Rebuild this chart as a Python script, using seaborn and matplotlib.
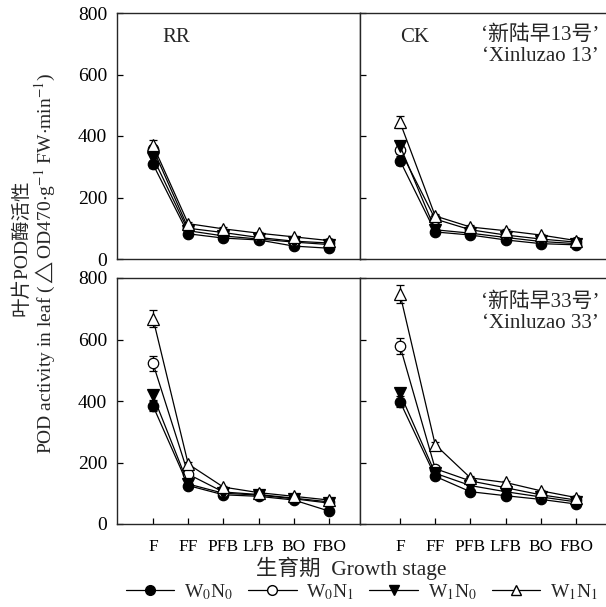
import numpy as np
import pandas as pd
import matplotlib
matplotlib.use("Agg")
import matplotlib.pyplot as plt
import seaborn as sns

sns.set_style("ticks")
plt.rcParams['font.family'] = ['Liberation Serif', 'Noto Sans CJK SC', 'DejaVu Sans']
plt.rcParams['mathtext.fontset'] = 'stix'

# ---------------------------
# data
# ---------------------------
stages = ["F", "FF", "PFB", "LFB", "BO", "FBO"]
treatments = ["W0N0", "W0N1", "W1N0", "W1N1"]
legend_labels = [r"W$_0$N$_0$", r"W$_0$N$_1$", r"W$_1$N$_0$", r"W$_1$N$_1$"]

# 新陆早13号, RR
rr13_w0n0 = [308, 82, 68, 62, 42, 35]
rr13_w0n1 = [358, 100, 86, 70, 58, 52]
rr13_w1n0 = [330, 92, 75, 65, 55, 47]
rr13_w1n1 = [370, 115, 98, 84, 72, 60]
rr13_err = [[12, 5, 5, 4, 4, 4], [12, 6, 5, 4, 4, 4], [12, 5, 5, 4, 4, 4], [18, 6, 5, 4, 4, 4]]

# 新陆早13号, CK
ck13_w0n0 = [320, 88, 78, 62, 50, 46]
ck13_w0n1 = [355, 130, 95, 78, 65, 55]
ck13_w1n0 = [368, 95, 84, 70, 57, 50]
ck13_w1n1 = [445, 140, 104, 92, 78, 60]
ck13_err = [[15, 6, 5, 4, 4, 4], [15, 6, 5, 4, 4, 4], [15, 6, 5, 4, 4, 4], [20, 6, 5, 4, 4, 4]]

# 新陆早33号, RR
rr33_w0n0 = [384, 125, 95, 90, 78, 42]
rr33_w0n1 = [522, 162, 104, 96, 84, 72]
rr33_w1n0 = [418, 130, 100, 94, 82, 68]
rr33_w1n1 = [668, 195, 120, 102, 90, 78]
rr33_err = [[18, 8, 5, 5, 4, 4], [25, 8, 5, 5, 4, 4], [18, 8, 5, 5, 4, 4], [28, 8, 5, 5, 4, 4]]

# 新陆早33号, CK
ck33_w0n0 = [398, 155, 105, 92, 80, 65]
ck33_w0n1 = [579, 180, 140, 118, 95, 78]
ck33_w1n0 = [425, 165, 125, 105, 88, 72]
ck33_w1n1 = [748, 258, 150, 135, 108, 86]
ck33_err = [[18, 8, 5, 5, 4, 4], [25, 8, 5, 5, 4, 4], [18, 8, 5, 5, 4, 4], [28, 8, 5, 5, 4, 4]]

panels = {
    ("13", "RR"): ([rr13_w0n0, rr13_w0n1, rr13_w1n0, rr13_w1n1], rr13_err),
    ("13", "CK"): ([ck13_w0n0, ck13_w0n1, ck13_w1n0, ck13_w1n1], ck13_err),
    ("33", "RR"): ([rr33_w0n0, rr33_w0n1, rr33_w1n0, rr33_w1n1], rr33_err),
    ("33", "CK"): ([ck33_w0n0, ck33_w0n1, ck33_w1n0, ck33_w1n1], ck33_err),
}

rows = []
for (cv, trt), (series, errs) in panels.items():
    for t, vals, err in zip(treatments, series, errs):
        for i, s in enumerate(stages):
            rows.append({"cultivar": cv, "root": trt, "treatment": t,
                         "stage": s, "x": i, "value": vals[i], "err": err[i]})
df = pd.DataFrame(rows)

# marker styles
markers = {"W0N0": ("o", "black"), "W0N1": ("o", "white"),
           "W1N0": ("v", "black"), "W1N1": ("^", "white")}

# ---------------------------
# figure
# ---------------------------
W, H = 606, 607
fig = plt.figure(figsize=(W / 100, H / 100), dpi=100)

def frac(x0, y0, x1, y1):
    return [x0 / W, 1 - y1 / H, (x1 - x0) / W, (y1 - y0) / H]

pos = {
    ("13", "RR"): frac(117, 13, 360, 259),
    ("13", "CK"): frac(360, 13, 607, 259),
    ("33", "RR"): frac(117, 278, 360, 524),
    ("33", "CK"): frac(360, 278, 607, 524),
}
xlims = {"RR": (-1.023, 5.88), "CK": (-1.136, 5.88)}

for (cv, trt), p in pos.items():
    ax = fig.add_axes(p)
    sub = df[(df.cultivar == cv) & (df.root == trt)]
    for t in treatments:
        d = sub[sub.treatment == t]
        m, fc = markers[t]
        ax.errorbar(d["x"], d["value"], yerr=d["err"], fmt="none",
                    ecolor="black", elinewidth=0.9, capsize=3, capthick=0.9, zorder=2)
        sns.lineplot(data=d, x="x", y="value", ax=ax, color="black",
                     marker=m, markerfacecolor=fc, markeredgecolor="black",
                     markersize=7.5 if m == "o" else 8, markeredgewidth=0.9,
                     linewidth=0.9, zorder=3)
    ax.set_xlim(*xlims[trt])
    ax.set_ylim(0, 800)
    ax.set_yticks([0, 200, 400, 600, 800])
    ax.set_xlabel("")
    ax.set_ylabel("")
    for sp in ax.spines.values():
        sp.set_visible(True)
        sp.set_linewidth(1.0)
    ax.tick_params(direction="in", length=4.5, width=0.9, colors="black")
    ax.tick_params(axis="y", labelsize=14, pad=7)
    ax.tick_params(axis="x", labelsize=12.5, pad=11)
    if cv == "33":
        ax.set_xticks(range(len(stages)))
        ax.set_xticklabels(stages)
    else:
        ax.set_xticks([])
    if trt == "CK":
        ax.set_yticklabels([])
    if cv == "13":
        ax.text(0.243 if trt == "RR" else 0.223, 0.902, trt, transform=ax.transAxes,
                fontsize=15, ha="center", va="center")
    if trt == "CK":
        y1, y2 = (0.911, 0.825) if cv == "13" else (0.902, 0.817)
        ax.text(0.968, y1, "‘新陆早%s号’" % cv, transform=ax.transAxes,
                fontsize=15, ha="right", va="center")
        ax.text(0.968, y2, "‘Xinluzao %s’" % cv, transform=ax.transAxes,
                fontsize=15, ha="right", va="center")

# axis titles
fig.text(21 / W, 1 - 248 / H, "叶片POD酶活性", rotation=90, fontsize=14,
         ha="center", va="center")
fig.text(45 / W, 1 - 263 / H,
         r"POD activity in leaf ($\triangle$OD470$\cdot$g$^{-1}$ FW$\cdot$min$^{-1}$)",
         rotation=90, fontsize=14, ha="center", va="center")
fig.text(351 / W, 1 - 568 / H, "生育期  Growth stage", fontsize=15.5,
         ha="center", va="center")

# legend
handles = []
for t in treatments:
    m, fc = markers[t]
    h, = plt.plot([], [], color="black", marker=m, markerfacecolor=fc,
                  markeredgecolor="black", markersize=7, linewidth=0.9)
    handles.append(h)
fig.legend(handles, legend_labels, loc="center", ncol=4, frameon=False,
           bbox_to_anchor=(362 / W, 1 - 592 / H), fontsize=14,
           handlelength=2.5, handletextpad=0.5, columnspacing=0.75)

plt.savefig("out.png", dpi=100)
